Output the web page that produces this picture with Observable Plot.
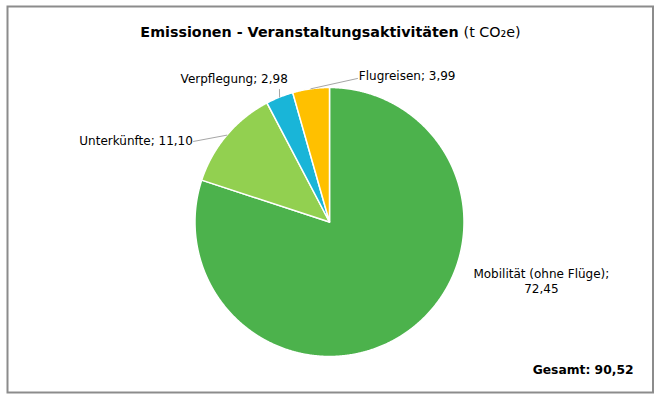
<!DOCTYPE html>
<html><head><meta charset="utf-8">
<script src="https://cdn.jsdelivr.net/npm/d3@7"></script>
<script src="https://cdn.jsdelivr.net/npm/@observablehq/plot@0.6"></script>
<style>body{margin:0;background:#fff;} svg{display:block}</style>
</head><body><div id="chart"></div>
<script>
// ---- data ----
const categories = ["Mobilität (ohne Flüge)", "Unterkünfte", "Verpflegung", "Flugreisen"];
const values = [72.45, 11.10, 2.98, 3.99];
const colors = ["#4cb24c", "#92d050", "#19b5d8", "#ffc000"];
const titleBold = "Emissionen - Veranstaltungsaktivitäten";
const titleUnit = "(t CO₂e)";
const totalPrefix = "Gesamt: ";

// ---- layout (unit-circle coordinates, radius = 1) ----
const W = 660, H = 396;
const cx = 329, cy = 221.5, r = 134.5;
const FONT = "DejaVu Sans";
const TITLE_SIZE = 14.3;
const labelLayout = {
  "Mobilität (ohne Flüge)": {tx: 1.575, ty: -0.438, anchor: "middle", multi: true},
  "Unterkünfte": {lx: -1.011, ly: 0.599, tx: -1.016, ty: 0.606, anchor: "end"},
  "Verpflegung": {lx: -0.372, ly: 0.985, tx: -0.31, ty: 1.067, anchor: "end"},
  "Flugreisen": {lx: 0.208, ly: 1.067, tx: 0.218, ty: 1.089, anchor: "start"}
};

const fmt = v => v.toFixed(2).replace(".", ",");
const arcs = d3.pie().sort(null).value(d => d)(values);

// slice polygons
const slicePts = [];
arcs.forEach((a, i) => {
  const cat = categories[i];
  slicePts.push({cat, x: 0, y: 0});
  const n = Math.max(2, Math.ceil((a.endAngle - a.startAngle) / 0.005));
  for (let k = 0; k <= n; k++) {
    const t = a.startAngle + (a.endAngle - a.startAngle) * k / n;
    slicePts.push({cat, x: Math.sin(t), y: Math.cos(t)});
  }
  slicePts.push({cat, x: 0, y: 0});
});

// leader lines & labels
const leaders = [];
const labels = [];
arcs.forEach((a, i) => {
  const cat = categories[i];
  const L = labelLayout[cat];
  const mid = (a.startAngle + a.endAngle) / 2;
  if (L.lx !== undefined) {
    leaders.push({cat, x: Math.sin(mid), y: Math.cos(mid)});
    leaders.push({cat, x: L.lx, y: L.ly});
  }
  const text = L.multi ? `${cat};\n${fmt(values[i])}` : `${cat}; ${fmt(values[i])}`;
  labels.push({cat, x: L.tx, y: L.ty, text, anchor: L.anchor});
});

const total = d3.sum(values);

// title centering via measurement
const ctx = document.createElement("canvas").getContext("2d");
ctx.font = `bold ${TITLE_SIZE}px "${FONT}"`;
const w1 = ctx.measureText(titleBold + " ").width;
ctx.font = `${TITLE_SIZE}px "${FONT}"`;
const w2 = ctx.measureText(titleUnit).width;
const tx0 = W / 2 - (w1 + w2) / 2;

const chart = Plot.plot({
  width: W, height: H,
  margin: 0,
  style: {fontFamily: FONT, fontSize: "12px", background: "#fff", color: "#000"},
  x: {type: "linear", domain: [-1, 1], range: [cx - r, cx + r], axis: null},
  y: {type: "linear", domain: [-1, 1], range: [cy + r, cy - r], axis: null},
  color: {domain: categories, range: colors},
  marks: [
    Plot.frame({stroke: "#8c8c8c", strokeWidth: 2, insetLeft: 7, insetTop: 6, insetRight: 7.5, insetBottom: 4}),
    Plot.line(slicePts, {x: "x", y: "y", z: "cat", fill: "cat", stroke: "white", strokeWidth: 1.5, strokeLinejoin: "round", curve: "linear"}),
    Plot.line(leaders, {x: "x", y: "y", z: "cat", stroke: "#a6a6a6", strokeWidth: 1}),
    ...["start", "middle", "end"].map(an =>
      Plot.text(labels.filter(d => d.anchor === an), {x: "x", y: "y", text: "text", textAnchor: an, fill: "#000", fontSize: 12, lineHeight: 1.25})
    ),
    Plot.text([titleBold], {frameAnchor: "top-left", dx: tx0, dy: 26, textAnchor: "start", fontWeight: "bold", fontSize: TITLE_SIZE, fill: "#000"}),
    Plot.text([titleUnit], {frameAnchor: "top-left", dx: tx0 + w1, dy: 26, textAnchor: "start", fontSize: TITLE_SIZE, fill: "#000"}),
    Plot.text([totalPrefix + fmt(total)], {frameAnchor: "bottom-right", dx: -27, dy: -23, textAnchor: "end", fontWeight: "bold", fontSize: 12.3, fill: "#000"})
  ]
});
document.getElementById("chart").appendChild(chart);
</script>
</body></html>
